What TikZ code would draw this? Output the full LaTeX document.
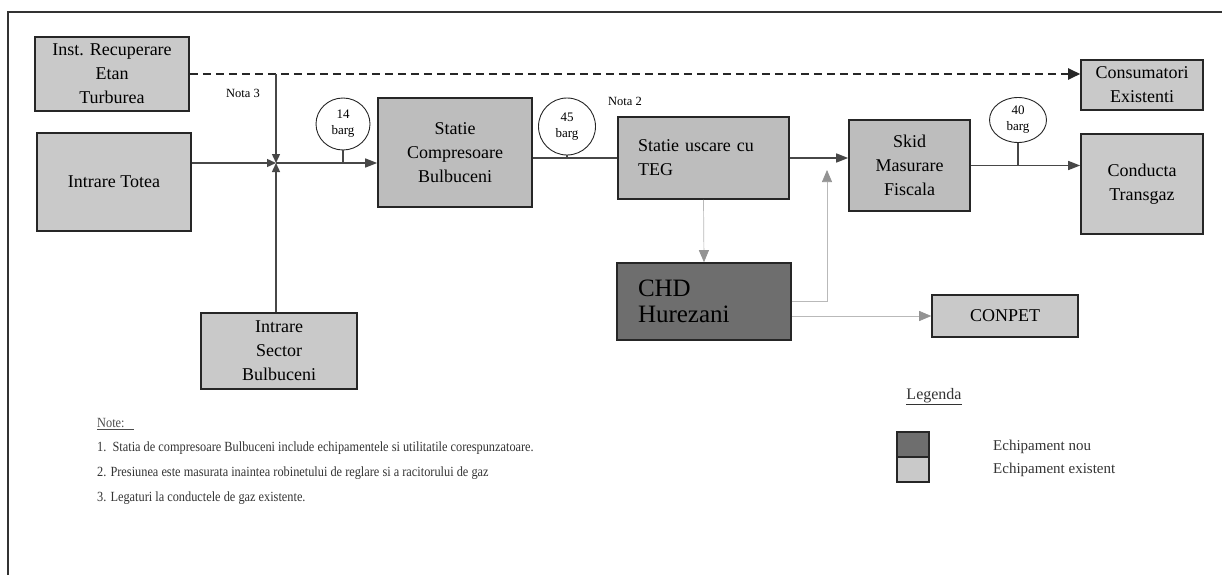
\documentclass[tikz,border=0pt]{standalone}
\usepackage{fontspec}
\setmainfont{Liberation Serif}
\newfontfamily\narrowserif[FakeStretch=0.88]{Liberation Serif}
\usetikzlibrary{arrows.meta,shapes.geometric}
\definecolor{oldgray}{gray}{0.79}
\definecolor{olddark}{gray}{0.74}
\definecolor{newgray}{gray}{0.43}
\definecolor{pipegray}{gray}{0.28}

\begin{document}
\begin{tikzpicture}[x=1pt,y=-1pt,
    box/.style={draw=black!85,line width=1.6pt,fill=oldgray,align=center,inner sep=2pt,
        font=\fontsize{18}{24}\selectfont},
    gauge/.style={draw=black!85,line width=0.9pt,fill=white,ellipse,inner sep=0pt,align=center,
        font=\fontsize{13}{16}\selectfont},
    pipe/.style={draw=pipegray,line width=1.4pt},
    flow/.style={pipe,-{Triangle[length=12pt,width=9pt]}},
    meet/.style={pipe,-{Triangle[length=9pt,width=8pt]}},
    branch/.style={draw=gray!55,line width=0.7pt,-{Triangle[length=12pt,width=10pt,color=gray!85]}},
    notetext/.style={anchor=west,inner sep=0pt,font=\narrowserif\fontsize{14}{16}\selectfont,text=black!80}
]
\useasboundingbox (0,0) rectangle (1222,575);
\draw[black!80,line width=1.4pt] (1222,12) -- (8,12) -- (8,575);

\node[box,minimum width=154pt,minimum height=74pt] (etan) at (112,74) {Inst. Recuperare\\Etan\\Turburea};
\node[box,minimum width=154pt,minimum height=98pt] (totea) at (114,182) {Intrare Totea};
\node[box,fill=olddark,minimum width=154pt,minimum height=109pt] (compr) at (455,152.5) {Statie\\Compresoare\\Bulbuceni};
\node[box,fill=olddark,minimum width=171pt,minimum height=82pt,text width=131pt,align=left] (teg) at (703.5,158) {Statie uscare cu\\TEG};
\node[box,fill=olddark,minimum width=121pt,minimum height=91pt] (skid) at (909.5,165.5) {Skid\\Masurare\\Fiscala};
\node[box,minimum width=122pt,minimum height=50pt] (consum) at (1142,85) {Consumatori\\Existenti};
\node[box,minimum width=122pt,minimum height=100pt] (transgaz) at (1142,184) {Conducta\\Transgaz};
\node[box,fill=newgray,minimum width=174pt,minimum height=77pt,text width=132pt,align=left,
    font=\fontsize{25}{26}\selectfont] (chd) at (704,301.5) {CHD\\Hurezani};
\node[box,minimum width=146pt,minimum height=42pt] (conpet) at (1005,316) {CONPET};
\node[box,minimum width=156pt,minimum height=76pt] (sector) at (279,351) {Intrare\\Sector\\Bulbuceni};

\node[gauge,minimum width=54pt,minimum height=52pt] (p14) at (343,124) {14\\barg};
\node[gauge,minimum width=57pt,minimum height=57pt] (p45) at (567,126.5) {45\\barg};
\node[gauge,minimum width=57pt,minimum height=45pt] (p40) at (1018,120) {40\\barg};

\node[font=\fontsize{12.5}{14}\selectfont] (nota3) at (243,93) {Nota 3};
\node[font=\fontsize{12.5}{14}\selectfont] (nota2) at (625,101) {Nota 2};

\coordinate (jn) at (276,163);
\coordinate (tie) at (827,170);

\draw[black!85,line width=2.4pt,dash pattern=on 8pt off 5pt,-{Triangle[length=12pt,width=11pt]}]
    (etan.east) -- (etan.east -| consum.west);
\draw[meet] (jn |- etan.east) -- (jn);
\draw[meet] (jn |- sector.north) -- (jn);
\draw[meet] (totea.east |- jn) -- (jn);
\draw[flow] (jn) -- (compr.west |- jn);
\draw[pipe] (compr.east |- teg.west) -- (teg.west);
\draw[flow] (teg.east) -- (teg.east -| skid.west);
\draw[flow] (skid.east) -- (skid.east -| transgaz.west);
\draw[pipe] (p14.south) -- (p14.south |- jn);
\draw[pipe] (p45.south) -- (p45.south |- teg.west);
\draw[pipe] (p40.south) -- (p40.south |- skid.east);

\draw[branch] (teg.south) -- (chd.north);
\draw[branch] (chd.east) -| (tie);
\draw[branch] (chd.east |- conpet.west) -- (conpet.west);

\node[anchor=west,inner sep=0pt,font=\narrowserif\fontsize{14}{16}\selectfont,text=black!70] (note) at (97,424) {\underline{Note:\ \ \ }};
\foreach \y/\txt [count=\i] in {448/{1.\ \ Statia de compresoare Bulbuceni include echipamentele si utilitatile corespunzatoare.},
    473/{2. Presiunea este masurata inaintea robinetului de reglare si a racitorului de gaz},
    498/{3. Legaturi la conductele de gaz existente.}}
    \node[notetext] (note\i) at (97,\y) {\txt};

\node[font=\fontsize{16}{18}\selectfont,text=black!80] (legenda) at (934,397) {\underline{Legenda}};
\node[draw=black!85,line width=1.2pt,fill=newgray,minimum width=32pt,minimum height=25pt] (nou) at (913,444.5) {};
\node[draw=black!85,line width=1.2pt,fill=oldgray,minimum width=32pt,minimum height=25pt] (exist) at (913,469.5) {};
\node[anchor=west,inner sep=0pt,font=\fontsize{15}{17}\selectfont,text=black!80] (tnou) at (993,447) {Echipament nou};
\node[anchor=west,inner sep=0pt,font=\fontsize{15}{17}\selectfont,text=black!80] (texist) at (993,470) {Echipament existent};
\end{tikzpicture}
\end{document}
